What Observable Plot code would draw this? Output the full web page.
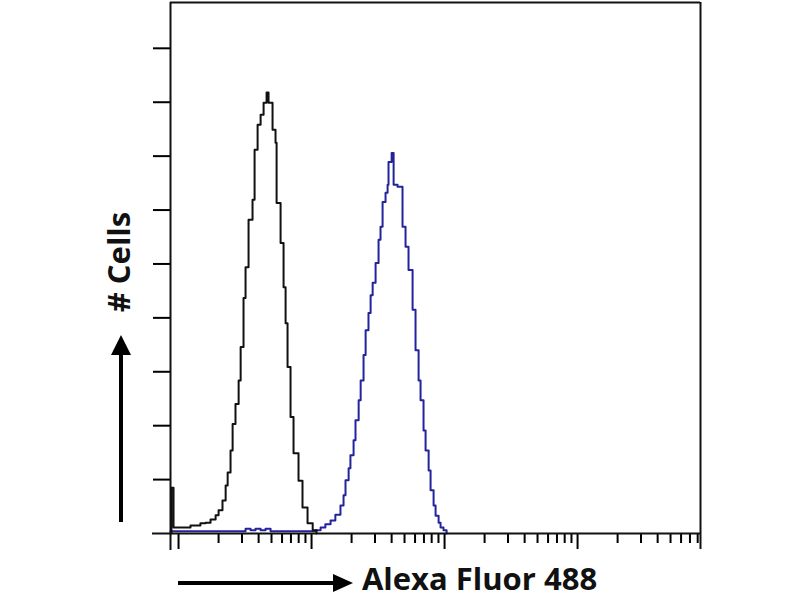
<!DOCTYPE html>
<html><head><meta charset="utf-8">
<script src="https://cdn.jsdelivr.net/npm/d3@7"></script>
<script src="https://cdn.jsdelivr.net/npm/@observablehq/plot@0.6"></script>
<style>body{margin:0;background:#fff} #chart{width:800px;height:600px}</style>
</head><body><div id="chart"></div>
<script>
// Control (isotype) histogram: fluorescence intensity vs cell count
const controlX = [0.87,0.885,0.917,1.035,1.23,1.46,1.60,1.74,1.90,2.0,2.14,2.26,2.34,2.46,2.55,2.68,2.83,2.93,3.08,3.19,3.36,3.60,3.73,3.93,4.14,4.36,4.59,4.75,5.09,5.36,5.46,5.85,6.16,6.38,6.60,6.95,7.32,7.98,8.55,9.33,10.2,10.9];
const controlY = [0,8.5,1.1,1.1,1.5,1.9,2.0,2.6,3.4,4.3,6.1,8.9,11.3,15.4,20.3,24.0,28.4,34.6,43.7,49.4,58.2,61.9,71.2,75.8,77.7,79.9,81.8,79.9,74.9,72.5,61.3,53.9,45.7,39.0,30.9,21.6,14.9,9.8,4.8,1.9,0.6,0];
// Stained histogram
const stainedX = [0.87,1.035,1.46,2.07,2.93,3.19,3.48,3.79,4.14,4.51,4.92,6.95,9.82,10.7,11.7,12.7,13.9,15.1,16.5,17.4,18.0,19.0,19.6,20.7,21.4,22.6,23.4,24.6,25.5,26.8,27.8,28.8,30.3,31.9,33.0,34.2,36.0,37.3,37.9,40.0,41.4,44.3,46.7,48.3,50.9,53.6,57.5,60.5,63.8,66.0,69.5,72.0,75.9,78.5,82.7,85.6,90.2,93.3,98.2,103.6];
const stainedY = [0.4,0.4,0.4,0.4,0.4,0.9,0.6,0.9,0.6,0.9,0.4,0.4,0.4,0.6,1.1,1.7,2.4,3.5,5.2,7.1,9.9,12.1,14.5,17.3,21.0,24.7,28.4,33.1,37.7,40.9,44.2,46.5,50.2,54.5,56.9,61.5,63.2,64.7,68.9,70.6,64.7,64.3,64.3,56.9,53.2,48.9,41.5,34.0,28.4,24.7,19.1,15.4,11.7,8.0,5.2,3.3,2.0,1.1,0.6,0];
const majorTicks = [1,10,100,1000];
const minorTicks = [2,3,4,5,6,7,8,9,20,30,40,50,60,70,80,90,200,300,400,500,600,700,800,900,2000,3000,4000,5000,6000,7000,8000];
const yTicks = [10,20,30,40,50,60,70,80,90];
const xLabel = "Alexa Fluor 488";
const yLabel = "# Cells";
const xDomain = [0.87, 8400];
const yDomain = [0, 98.5];

const control = controlX.map((x,i)=>({x, y: controlY[i]}));
const stained = stainedX.map((x,i)=>({x, y: stainedY[i]}));

const chart = Plot.plot({
  width: 800, height: 600,
  marginLeft: 170, marginRight: 100, marginTop: 2, marginBottom: 67,
  style: {background: "#fff", fontFamily: "Open Sans"},
  x: {type: "log", domain: xDomain},
  y: {domain: yDomain},
  marks: [
    Plot.axisX(minorTicks, {tickSize: 10, strokeWidth: 2, tickFormat: () => "", label: null}),
    Plot.axisX(majorTicks, {tickSize: 16, strokeWidth: 2, tickFormat: () => "", label: null}),
    Plot.axisY(yTicks, {tickSize: 17, strokeWidth: 2, tickFormat: () => "", label: null}),
    Plot.lineY(stained, {x: "x", y: "y", curve: "step-after", stroke: "#23239c", strokeWidth: 2}),
    Plot.lineY(control, {x: "x", y: "y", curve: "step-after", stroke: "#111", strokeWidth: 2}),
    Plot.ruleX([xDomain[0]], {stroke: "#111", strokeWidth: 2, insetBottom: -17}),
    Plot.ruleX([xDomain[1]], {stroke: "#111", strokeWidth: 2, insetBottom: -16}),
    Plot.ruleY([0], {stroke: "#111", strokeWidth: 2, insetLeft: -18}),
    Plot.ruleY([yDomain[1]], {stroke: "#111", strokeWidth: 2}),
    Plot.text([yLabel], {frameAnchor: "left", textAnchor: "middle", rotate: -90, dx: -50, dy: -6, lineAnchor: "middle", fontSize: 31, fontWeight: "bold", fill: "#111"}),
    Plot.text([xLabel], {frameAnchor: "bottom", textAnchor: "middle", dx: 44, dy: 47, lineAnchor: "middle", fontSize: 31, fontWeight: "bold", fill: "#111"})
  ]
});
document.getElementById("chart").appendChild(chart);

// axis direction arrows
const svg = d3.select(chart);
const g = svg.append("g").attr("fill", "#000").attr("stroke", "#000");
g.append("line").attr("x1", 178).attr("y1", 583).attr("x2", 336).attr("y2", 583).attr("stroke-width", 4);
g.append("path").attr("d", "M353,583 L333,574 L333,592 Z").attr("stroke", "none");
g.append("line").attr("x1", 121).attr("y1", 522).attr("x2", 121).attr("y2", 352).attr("stroke-width", 4);
g.append("path").attr("d", "M121,335 L111,355 L131,355 Z").attr("stroke", "none");
</script></body></html>
